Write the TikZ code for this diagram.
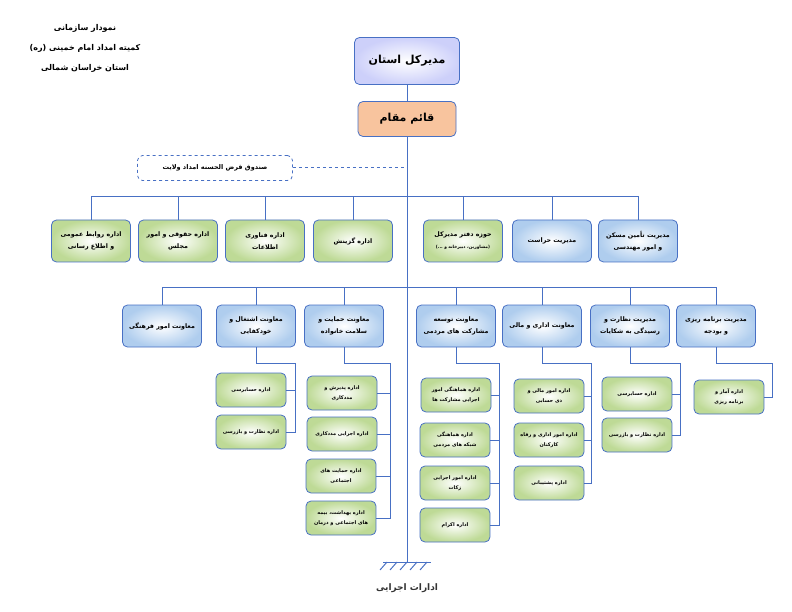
\documentclass[tikz,border=0pt]{standalone}
\usepackage{fontspec}
\newfontfamily\arabicfont[Script=Arabic]{DejaVu Sans}
\TeXXeTstate=1
\usetikzlibrary{shapes,arrows}
\newcommand{\fa}[1]{{\arabicfont\bfseries\beginR #1\endR}}
\definecolor{lnblue}{RGB}{72,112,196}
\definecolor{grn}{RGB}{190,218,150}
\definecolor{blu}{RGB}{175,205,238}
\definecolor{lav}{RGB}{205,208,250}
\definecolor{org}{RGB}{248,196,158}
\tikzstyle{link} = [draw=lnblue, line width=1pt]
\tikzstyle{unit} = [draw=lnblue, line width=0.8pt, rectangle, rounded corners=5pt, align=center, font=\fontsize{6.3}{12}\selectfont, text=black]
\tikzstyle{gbox} = [unit, inner color=white, outer color=grn, minimum width=79pt, minimum height=42pt]
\tikzstyle{bbox} = [unit, inner color=white, outer color=blu, minimum width=79pt, minimum height=42pt]
\tikzstyle{sbox} = [unit, inner color=white, outer color=grn, minimum width=70pt, minimum height=34pt, font=\fontsize{5}{10}\selectfont]
\begin{document}
\begin{tikzpicture}[x=1pt,y=1pt]
\useasboundingbox (0,0) rectangle (792,-612);
% title
\node[align=center, font=\fontsize{8}{20}\selectfont] (title) at (85,-48)
  {\fa{نمودار سازمانی}\\\fa{کمیته امداد امام خمینی (ره)}\\\fa{استان خراسان شمالی}};
% top
\node[unit, inner color=white, outer color=lav, minimum width=105pt, minimum height=47pt, font=\fontsize{11}{13}\selectfont] (ceo) at (407,-61) {\fa{مدیرکل استان}};
\node[unit, fill=org, minimum width=98pt, minimum height=35pt, font=\fontsize{11}{13}\selectfont] (dep) at (407,-119) {\fa{قائم مقام}};
\node[unit, dashed, fill=white, minimum width=155pt, minimum height=25pt, font=\fontsize{6.5}{8}\selectfont] (fund) at (215,-168) {\fa{صندوق قرض الحسنه امداد ولایت}};
\coordinate (gnd) at (407,-562);
\coordinate (hub1) at (407,-197);
\coordinate (hub2) at (407,-287);
\draw[link] (ceo) -- (dep);
\draw[link] (dep) -- (gnd);
\draw[link, dashed] (fund.east) -- (fund.east -| gnd);
% row 1
\node[gbox] (pr)   at (91,-241)  {\fa{اداره روابط عمومی}\\\fa{و اطلاع رسانی}};
\node[gbox] (law)  at (178,-241) {\fa{اداره حقوقی و امور}\\\fa{مجلس}};
\node[gbox] (it)   at (265,-241) {\fa{اداره فناوری}\\\fa{اطلاعات}};
\node[gbox] (sel)  at (353,-241) {\fa{اداره گزینش}};
\node[gbox] (off)  at (463,-241) {\fa{حوزه دفتر مدیرکل}\\{\fontsize{4.3}{8}\selectfont\fa{(مشاورین، دبیرخانه و ...)}}};
\node[bbox] (sec)  at (552,-241) {\fa{مدیریت حراست}};
\node[bbox] (hous) at (638,-241) {\fa{مدیریت تأمین مسکن}\\\fa{و امور مهندسی}};
\foreach \n in {pr,law,it,sel,off,sec,hous}
  \draw[link] (\n.north) |- (hub1);
% row 2
\node[bbox] (cul)  at (162,-326) {\fa{معاونت امور فرهنگی}};
\node[bbox] (emp)  at (256,-326) {\fa{معاونت اشتغال و}\\\fa{خودکفایی}};
\node[bbox] (fam)  at (344,-326) {\fa{معاونت حمایت و}\\\fa{سلامت خانواده}};
\node[bbox] (part) at (456,-326) {\fa{معاونت توسعه}\\\fa{مشارکت های مردمی}};
\node[bbox] (adm)  at (542,-326) {\fa{معاونت اداری و مالی}};
\node[bbox] (insp) at (630,-326) {\fa{مدیریت نظارت و}\\\fa{رسیدگی به شکایات}};
\node[bbox] (plan) at (716,-326) {\fa{مدیریت برنامه ریزی}\\\fa{و بودجه}};
\foreach \n in {cul,emp,fam,part,adm,insp,plan}
  \draw[link] (\n.north) |- (hub2);
% sub units
\node[sbox] (emp1) at (251,-390) {\fa{اداره حسابرسی}};
\node[sbox] (emp2) at (251,-432) {\fa{اداره نظارت و بازرسی}};
\node[sbox] (fam1) at (342,-393) {\fa{اداره پذیرش و}\\\fa{مددکاری}};
\node[sbox] (fam2) at (342,-434) {\fa{اداره اجرایی مددکاری}};
\node[sbox] (fam3) at (341,-476) {\fa{اداره حمایت های}\\\fa{اجتماعی}};
\node[sbox] (fam4) at (341,-518) {\fa{اداره بهداشت، بیمه}\\\fa{های اجتماعی و درمان}};
\node[sbox] (par1) at (456,-395) {\fa{اداره هماهنگی امور}\\\fa{اجرایی مشارکت ها}};
\node[sbox] (par2) at (455,-440) {\fa{اداره هماهنگی}\\\fa{شبکه های مردمی}};
\node[sbox] (par3) at (455,-483) {\fa{اداره امور اجرایی}\\\fa{زکات}};
\node[sbox] (par4) at (455,-525) {\fa{اداره اکرام}};
\node[sbox] (adm1) at (549,-396) {\fa{اداره امور مالی و}\\\fa{ذی حسابی}};
\node[sbox] (adm2) at (549,-440) {\fa{اداره امور اداری و رفاه}\\\fa{کارکنان}};
\node[sbox] (adm3) at (549,-483) {\fa{اداره پشتیبانی}};
\node[sbox] (ins1) at (637,-394) {\fa{اداره حسابرسی}};
\node[sbox] (ins2) at (637,-435) {\fa{اداره نظارت و بازرسی}};
\node[sbox] (pla1) at (729,-397) {\fa{اداره آمار و}\\\fa{برنامه ریزی}};
\coordinate (e1) at (295,-363);
\coordinate (f1) at (390,-363);
\coordinate (p1) at (499,-363);
\coordinate (a1) at (591,-363);
\coordinate (i1) at (680,-363);
\coordinate (b1) at (772,-363);
\draw[link] (emp.south) |- (e1) |- (emp2.east);
\draw[link] (emp1.east) -- (emp1.east -| e1);
\draw[link] (fam.south) |- (f1) |- (fam4.east);
\foreach \n in {fam1,fam2,fam3} \draw[link] (\n.east) -- (\n.east -| f1);
\draw[link] (part.south) |- (p1) |- (par4.east);
\foreach \n in {par1,par2,par3} \draw[link] (\n.east) -- (\n.east -| p1);
\draw[link] (adm.south) |- (a1) |- (adm3.east);
\foreach \n in {adm1,adm2} \draw[link] (\n.east) -- (\n.east -| a1);
\draw[link] (insp.south) |- (i1) |- (ins2.east);
\draw[link] (ins1.east) -- (ins1.east -| i1);
\draw[link] (plan.south) |- (b1) |- (pla1.east);
% ground
\draw[link] ([xshift=-24pt]gnd) -- ([xshift=24pt]gnd);
\foreach \i in {-20,-10,...,20}
  \draw[link] ([xshift=\i pt]gnd) -- ++(-7,-8);
\node[font=\fontsize{9}{11}\selectfont, text=black!80] (exe) at (407,-588) {\fa{ادارات اجرایی}};
\end{tikzpicture}
\end{document}
